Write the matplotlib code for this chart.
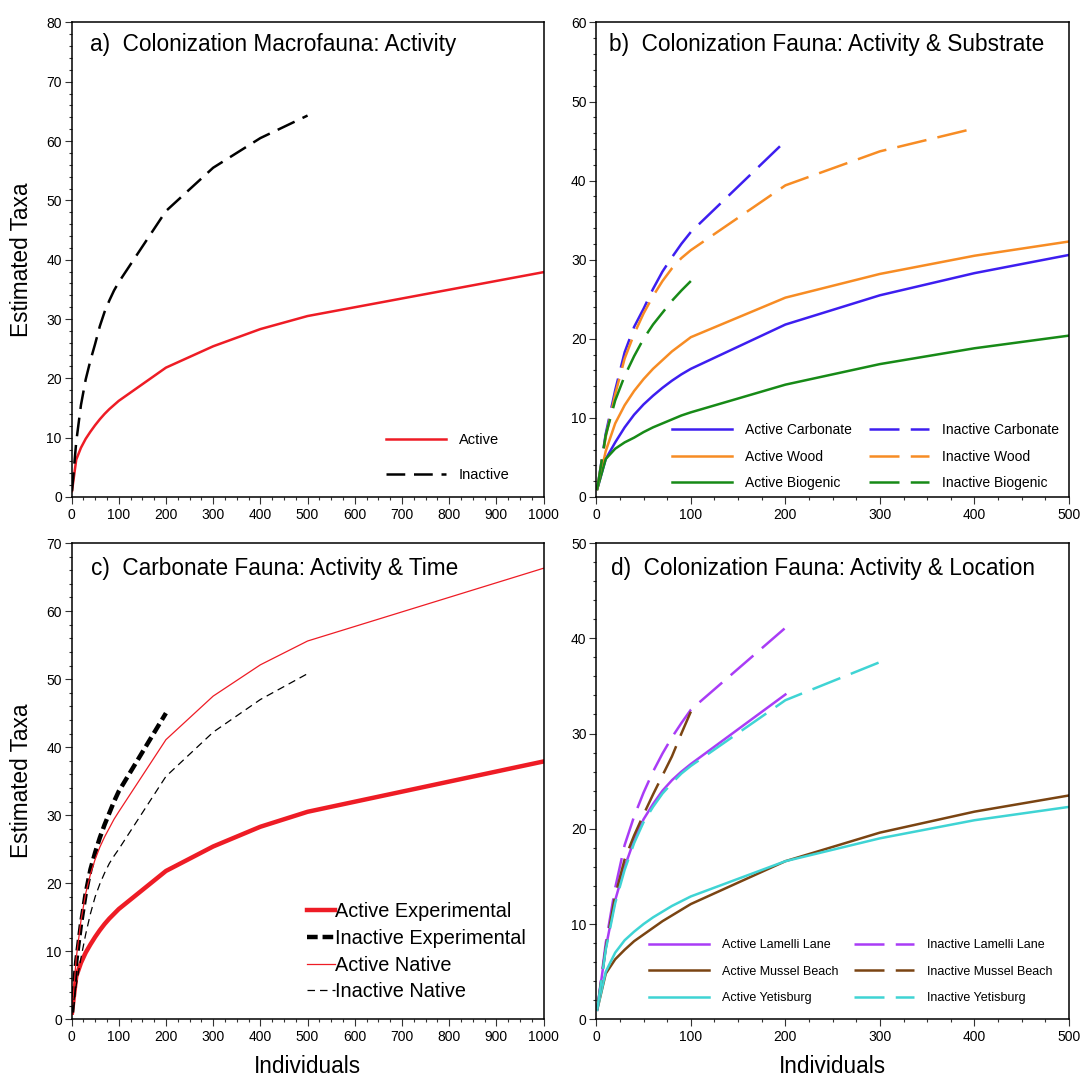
import matplotlib
matplotlib.use('Agg')
import matplotlib.pyplot as plt
from matplotlib.ticker import MultipleLocator

plt.rcParams['font.family'] = ['Liberation Sans', 'DejaVu Sans']

# sample sizes (individuals) at which the rarefaction curves were evaluated
x_100 = [1, 10, 20, 30, 40, 50, 60, 70, 80, 90, 100]
x_200 = x_100 + [200]
x_300 = x_200 + [300]
x_400 = x_300 + [400]
x_500 = x_400 + [500]
x_1000 = x_500 + [1000]

# a) macrofauna, active vs inactive
a_active = [1, 6.3, 8.3, 9.8, 11.0, 12.1, 13.1, 14.0, 14.8, 15.5, 16.2, 21.8, 25.4, 28.3, 30.5, 37.9]
a_inactive = [1, 9.3, 15.5, 19.8, 23.0, 25.8, 28.8, 31.2, 33.1, 34.8, 36.2, 48.2, 55.5, 60.5, 64.3]

# b) substrate
b_act_carbonate = [1, 4.8, 6.9, 8.8, 10.4, 11.7, 12.8, 13.8, 14.7, 15.5, 16.2, 21.8, 25.5, 28.3, 30.6]
b_act_wood = [1, 5.8, 9.3, 11.6, 13.4, 14.9, 16.2, 17.3, 18.4, 19.3, 20.2, 25.2, 28.2, 30.5, 32.3]
b_act_biogenic = [1, 4.8, 6.1, 6.9, 7.5, 8.2, 8.8, 9.3, 9.8, 10.3, 10.7, 14.2, 16.8, 18.8, 20.4]
b_ina_carbonate = [1, 8.0, 13.5, 18.3, 21.5, 23.8, 26.3, 28.5, 30.3, 32.0, 33.5, 45.0]
b_ina_wood = [1, 7.6, 13.0, 17.5, 20.6, 23.2, 25.4, 27.3, 28.9, 30.2, 31.2, 39.4, 43.7, 46.6]
b_ina_biogenic = [1, 7.8, 12.2, 15.3, 17.8, 20.0, 21.8, 23.3, 24.8, 26.1, 27.3]

# c) carbonate fauna, experimental vs native
c_act_exp = a_active
c_ina_exp = [1, 8.5, 14.0, 18.5, 22.0, 24.5, 26.7, 28.6, 30.3, 32.0, 33.5, 45.0]
c_act_native = [1, 9.0, 14.5, 18.5, 21.3, 23.5, 25.3, 26.8, 28.1, 29.4, 30.5, 41.1, 47.5, 52.1, 55.6, 66.3]
c_ina_native = [1, 5.0, 9.0, 12.5, 15.5, 18.0, 19.9, 21.5, 22.9, 24.0, 25.0, 35.7, 42.2, 47.0, 50.8]

# d) location
d_act_lamelli = [1, 7.5, 12.5, 16.0, 18.8, 21.0, 22.6, 24.0, 25.1, 26.0, 26.8, 34.1]
d_act_mussel = [1, 4.8, 6.3, 7.3, 8.2, 8.9, 9.6, 10.3, 10.9, 11.5, 12.1, 16.6, 19.6, 21.8, 23.5]
d_act_yetisburg = [1, 5.0, 7.0, 8.3, 9.2, 10.0, 10.7, 11.3, 11.9, 12.4, 12.9, 16.6, 19.0, 20.9, 22.3]
d_ina_lamelli = [1, 8.0, 13.8, 18.3, 21.3, 23.8, 26.0, 27.9, 29.6, 31.1, 32.5, 41.1]
d_ina_mussel = [1, 7.5, 13.0, 16.8, 19.3, 21.5, 23.6, 25.6, 27.6, 30.0, 32.3]
d_ina_yetisburg = [1, 7.3, 12.2, 15.7, 18.5, 20.7, 22.3, 23.7, 24.8, 25.8, 26.6, 33.5, 37.5]

RED = '#ee1c25'
BLUE = '#3d1ef0'
ORANGE = '#f78c24'
GREEN = '#178a17'
PURPLE = '#a93cf6'
BROWN = '#7a4412'
CYAN = '#3fd4d4'

LONG_DASH = (0, (12, 4.5))


def style_axes(ax, xmax, ymax):
    ax.set_xlim(0, xmax)
    ax.set_ylim(0, ymax)
    ax.xaxis.set_major_locator(MultipleLocator(100))
    ax.xaxis.set_minor_locator(MultipleLocator(25))
    ax.yaxis.set_major_locator(MultipleLocator(10))
    ax.yaxis.set_minor_locator(MultipleLocator(2))
    ax.tick_params(which='both', direction='out', top=False, right=False,
                   width=0.8, colors='#333333', labelcolor='black')
    ax.tick_params(which='major', length=5, labelsize=10)
    ax.tick_params(axis='x', which='major', pad=3)
    ax.tick_params(axis='y', which='major', pad=2)
    ax.tick_params(which='minor', length=2.5)
    for sp in ax.spines.values():
        sp.set_linewidth(1.1)


def panel_title(ax, txt, x, y):
    ax.text(x, y, txt, transform=ax.transAxes, fontsize=16.3, va='baseline')


fig = plt.figure(figsize=(10.82, 10.78), dpi=100)
ax_a = fig.add_axes([0.0661, 0.5390, 0.4363, 0.4402])
ax_b = fig.add_axes([0.5511, 0.5390, 0.4369, 0.4402])
ax_c = fig.add_axes([0.0661, 0.05445, 0.4363, 0.4418])
ax_d = fig.add_axes([0.5511, 0.05445, 0.4369, 0.4418])

# a) ---------------------------------------------------------------
ax_a.plot(x_1000, a_active, color=RED, lw=1.8, label='Active')
ax_a.plot(x_500, a_inactive, color='black', lw=1.8, ls=(0, (7.5, 3.5)), label='Inactive')
style_axes(ax_a, 1000, 80)
panel_title(ax_a, 'a)  Colonization Macrofauna: Activity', 0.039, 0.939)
ax_a.legend(loc='center left', bbox_to_anchor=(0.666, 0.083), frameon=False,
            borderpad=0, borderaxespad=0, fontsize=10.5, handlelength=4.1,
            handletextpad=0.9, labelspacing=1.4)

# b) ---------------------------------------------------------------
ax_b.plot(x_500, b_act_carbonate, color=BLUE, lw=1.8, label='Active Carbonate')
ax_b.plot(x_500, b_act_wood, color=ORANGE, lw=1.8, label='Active Wood')
ax_b.plot(x_500, b_act_biogenic, color=GREEN, lw=1.8, label='Active Biogenic')
ax_b.plot(x_200, b_ina_carbonate, color=BLUE, lw=1.8, ls=LONG_DASH, label='Inactive Carbonate')
ax_b.plot(x_400, b_ina_wood, color=ORANGE, lw=1.8, ls=LONG_DASH, label='Inactive Wood')
ax_b.plot(x_100, b_ina_biogenic, color=GREEN, lw=1.8, ls=LONG_DASH, label='Inactive Biogenic')
style_axes(ax_b, 500, 60)
panel_title(ax_b, 'b)  Colonization Fauna: Activity & Substrate', 0.027, 0.939)
ax_b.legend(loc='center left', bbox_to_anchor=(0.160, 0.085), frameon=False, ncol=2,
            borderpad=0, borderaxespad=0, fontsize=10, handlelength=4.3,
            handletextpad=0.95, labelspacing=0.9, columnspacing=1.25)

# c) ---------------------------------------------------------------
ax_c.plot(x_1000, c_act_exp, color=RED, lw=3.2, label='Active Experimental')
ax_c.plot(x_200, c_ina_exp, color='black', lw=3.2, ls=(0, (2.4, 1.1)), label='Inactive Experimental')
ax_c.plot(x_1000, c_act_native, color=RED, lw=0.9, label='Active Native')
ax_c.plot(x_500, c_ina_native, color='black', lw=0.9, ls=(0, (6, 4)), label='Inactive Native')
style_axes(ax_c, 1000, 70)
panel_title(ax_c, 'c)  Carbonate Fauna: Activity & Time', 0.041, 0.933)
ax_c.legend(loc='center left', bbox_to_anchor=(0.499, 0.142), frameon=False,
            borderpad=0, borderaxespad=0, fontsize=14.3, handlelength=1.4,
            handletextpad=0.0, labelspacing=0.39)

# d) ---------------------------------------------------------------
ax_d.plot(x_200, d_act_lamelli, color=PURPLE, lw=1.8, label='Active Lamelli Lane')
ax_d.plot(x_500, d_act_mussel, color=BROWN, lw=1.8, label='Active Mussel Beach')
ax_d.plot(x_500, d_act_yetisburg, color=CYAN, lw=1.8, label='Active Yetisburg')
ax_d.plot(x_200, d_ina_lamelli, color=PURPLE, lw=1.8, ls=LONG_DASH, label='Inactive Lamelli Lane')
ax_d.plot(x_100, d_ina_mussel, color=BROWN, lw=1.8, ls=LONG_DASH, label='Inactive Mussel Beach')
ax_d.plot(x_300, d_ina_yetisburg, color=CYAN, lw=1.8, ls=LONG_DASH, label='Inactive Yetisburg')
style_axes(ax_d, 500, 50)
panel_title(ax_d, 'd)  Colonization Fauna: Activity & Location', 0.031, 0.933)
ax_d.legend(loc='center left', bbox_to_anchor=(0.1115, 0.100), frameon=False, ncol=2,
            borderpad=0, borderaxespad=0, fontsize=9, handlelength=4.8,
            handletextpad=1.05, labelspacing=1.18, columnspacing=1.2)

# axis labels only on the outer panels
for ax in (ax_a, ax_c):
    ax.set_ylabel('Estimated Taxa', fontsize=16.3)
    ax.yaxis.set_label_coords(-0.082, 0.5)
for ax in (ax_c, ax_d):
    ax.set_xlabel('Individuals', fontsize=16.3)
    ax.xaxis.set_label_coords(0.5, -0.075)

fig.savefig('out.png', dpi=100)
